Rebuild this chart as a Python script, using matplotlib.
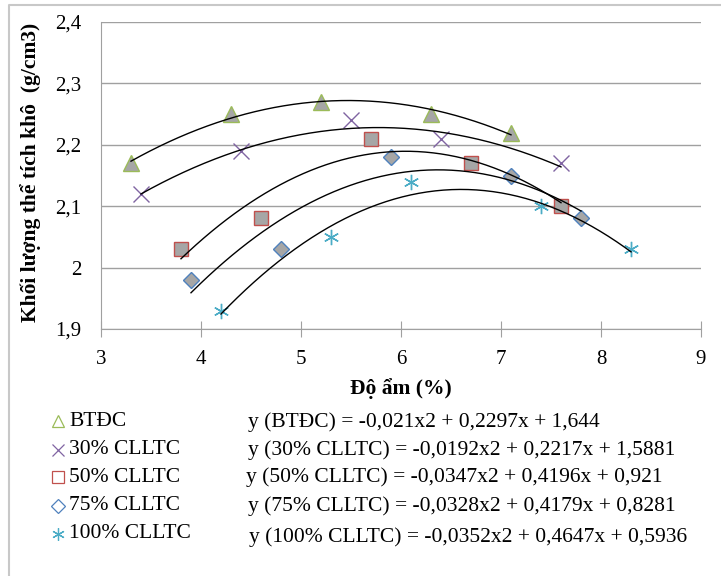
import numpy as np
import matplotlib
matplotlib.use("Agg")
import matplotlib.pyplot as plt

plt.rcParams["font.family"] = ["Liberation Serif", "DejaVu Serif"]

# data
series_names = ["BTĐC", "30% CLLTC", "50% CLLTC", "75% CLLTC", "100% CLLTC"]
x_btdc = [3.3, 4.3, 5.2, 6.3, 7.1]
y_btdc = [2.17, 2.25, 2.27, 2.25, 2.22]
x_30 = [3.4, 4.4, 5.5, 6.4, 7.6]
y_30 = [2.12, 2.19, 2.24, 2.21, 2.17]
x_50 = [3.8, 4.6, 5.7, 6.7, 7.6]
y_50 = [2.03, 2.08, 2.21, 2.17, 2.10]
x_75 = [3.9, 4.8, 5.9, 7.1, 7.8]
y_75 = [1.98, 2.03, 2.18, 2.15, 2.08]
x_100 = [4.2, 5.3, 6.1, 7.4, 8.3]
y_100 = [1.93, 2.05, 2.14, 2.10, 2.03]

# trendline coefficients (a, b, c) shown in the equations
coef_btdc = [-0.021, 0.2297, 1.644]
coef_30 = [-0.0192, 0.2217, 1.5881]
coef_50 = [-0.0347, 0.4196, 0.921]
coef_75 = [-0.0328, 0.4179, 0.8281]
coef_100 = [-0.0352, 0.4647, 0.5936]

equations = [
    "y (BTĐC) = -0,021x2 + 0,2297x + 1,644",
    "y (30% CLLTC) = -0,0192x2 + 0,2217x + 1,5881",
    "y (50% CLLTC) = -0,0347x2 + 0,4196x + 0,921",
    "y (75% CLLTC) = -0,0328x2 + 0,4179x + 0,8281",
    "y (100% CLLTC) = -0,0352x2 + 0,4647x + 0,5936",
]

xs = [x_btdc, x_30, x_50, x_75, x_100]
ys = [y_btdc, y_30, y_50, y_75, y_100]
coefs = [coef_btdc, coef_30, coef_50, coef_75, coef_100]

markers = ["^", "x", "s", "D", "*"]
edge_cols = ["#9BBB59", "#8064A2", "#C0504D", "#4F81BD", "#4BACC6"]
msizes = [11, 11, 10, 8, 11]
fill_col = "#A6A6A6"
grid_col = "#A0A0A0"

fig = plt.figure(figsize=(7.21, 5.76), dpi=100)
ax = fig.add_axes([101 / 721, 1 - 329 / 576, 600 / 721, 307 / 576])

for x, y, m, ec, ms, cf in zip(xs, ys, markers, edge_cols, msizes, coefs):
    if m == "x":
        ax.plot(x, y, linestyle="none", marker="x", ms=ms, mew=1.0,
                color=ec, zorder=3)
    elif m == "*":
        ax.plot(x, y, linestyle="none", marker=(6, 2, 0), ms=ms, mew=1.0,
                color=ec, zorder=3)
    else:
        ax.plot(x, y, linestyle="none", marker=m, ms=ms, mew=1.0,
                mfc=fill_col, mec=ec, zorder=3)
    xx = np.linspace(min(x), max(x), 200)
    ax.plot(xx, np.polyval(cf, xx), color="black", lw=1.0, zorder=4)

ax.set_xlim(3, 9)
ax.set_ylim(1.9, 2.4)
ax.set_xticks(range(3, 10))
ax.set_yticks([1.9, 2.0, 2.1, 2.2, 2.3, 2.4])
ax.set_xticklabels([str(v) for v in range(3, 10)])
ax.set_yticklabels(["1,9", "2", "2,1", "2,2", "2,3", "2,4"])
ax.yaxis.grid(True, color=grid_col, lw=1.0)
ax.set_axisbelow(True)
for side in ["top", "right"]:
    ax.spines[side].set_visible(False)
ax.spines["left"].set_color(grid_col)
ax.spines["bottom"].set_color(grid_col)
ax.tick_params(axis="x", direction="inout", length=12, color=grid_col,
               labelsize=15, pad=9)
ax.tick_params(axis="y", length=0, labelsize=15, pad=14)

ax.set_xlabel("Độ ẩm (%)", fontsize=15.5, fontweight="bold", labelpad=7)
ax.set_ylabel("Khối lượng thể tích khô  (g/cm3)", fontsize=15.5,
              fontweight="bold")
ax.yaxis.set_label_coords((41 - 101) / 600, (329 - 172) / 307)

# overlay in pixel coordinates for legend, equations and border
lax = fig.add_axes([0, 0, 1, 1], zorder=-1)
lax.set_xlim(0, 721)
lax.set_ylim(576, 0)
lax.axis("off")
lax.plot([9, 9, 721], [576, 5, 5], color="#C8C8C8", lw=1.5)

row_y = [421, 450, 477, 506, 534]
eq_y = [422, 450, 477, 506, 537]
eq_x = [248, 248, 246, 248, 249]
leg_ms = [8, 8, 8, 7, 9]
for i, name in enumerate(series_names):
    m = markers[i]
    if m == "x":
        lax.plot(58, row_y[i], marker="x", ms=leg_ms[i], mew=0.9,
                 color=edge_cols[i])
    elif m == "*":
        lax.plot(58, row_y[i], marker=(6, 2, 0), ms=leg_ms[i], mew=0.9,
                 color=edge_cols[i])
    else:
        lax.plot(58, row_y[i], marker=m, ms=leg_ms[i], mew=0.9,
                 mfc="white", mec=edge_cols[i])
    lax.text(69, row_y[i], name, fontsize=15.5, va="center", ha="left")
    lax.text(eq_x[i], eq_y[i], equations[i], fontsize=15.5, va="center",
             ha="left")

fig.savefig("out.png", dpi=100)
